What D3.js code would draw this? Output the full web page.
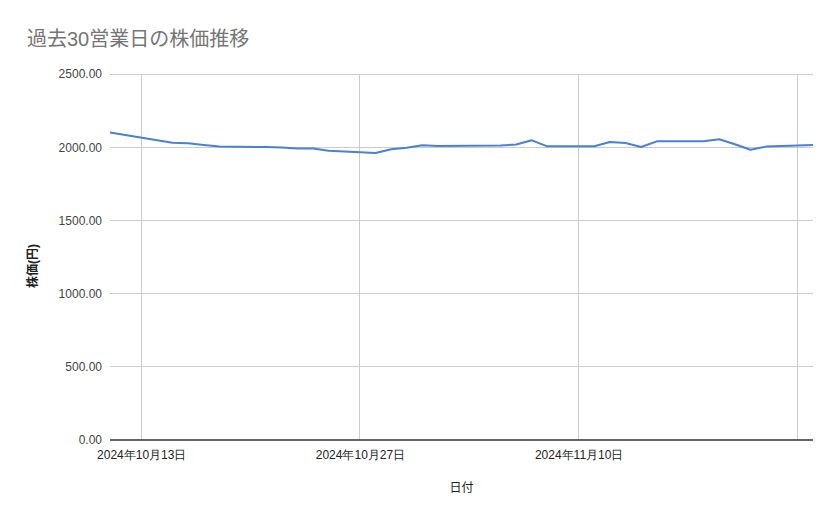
<!DOCTYPE html>
<html>
<head>
<meta charset="utf-8">
<script src="https://cdn.jsdelivr.net/npm/d3@7"></script>
<style>
  html, body { margin: 0; padding: 0; background: #fff; }
  svg { display: block; font-family: "Liberation Sans", Arial, "Noto Sans CJK JP", sans-serif; }
</style>
</head>
<body>
<svg id="chart" width="839" height="519"></svg>
<script>
const chartTitle = "過去30営業日の株価推移";
const xTitle = "日付";
const yTitle = "株価(円)";
const dates = ["2024-10-11","2024-10-15","2024-10-16","2024-10-17","2024-10-18",
  "2024-10-21","2024-10-22","2024-10-23","2024-10-24","2024-10-25",
  "2024-10-28","2024-10-29","2024-10-30","2024-10-31","2024-11-01",
  "2024-11-05","2024-11-06","2024-11-07","2024-11-08","2024-11-11",
  "2024-11-12","2024-11-13","2024-11-14","2024-11-15","2024-11-18",
  "2024-11-19","2024-11-20","2024-11-21","2024-11-22","2024-11-25"];
const prices = [2100,2030,2027,2015,2004,
  2001,1998,1991,1991,1976,
  1960,1986,1997,2013,2008,
  2012,2018,2047,2006,2007,
  2035,2029,2001,2040,2040,
  2054,2020,1983,2004,2015];
const xTickDates = ["2024-10-13","2024-10-27","2024-11-10","2024-11-24"];
const xTickLabels = ["2024年10月13日","2024年10月27日","2024年11月10日",""];
const yTicks = [0,500,1000,1500,2000,2500];

const parse = d3.utcParse("%Y-%m-%d");
const data = dates.map((d,i) => ({date: parse(d), value: prices[i]}));
const tickDates = xTickDates.map(parse);

const mLeft = 110, mRight = 813, mTop = 74, mBottom = 440;
const svg = d3.select("#chart");

const x = d3.scaleUtc().domain(d3.extent(data, d => d.date)).range([mLeft, mRight]);
const y = d3.scaleLinear().domain([0, 2500]).range([mBottom, mTop]);

svg.append("text").attr("x", 27).attr("y", 46)
  .attr("font-size", 20).attr("fill", "#757575").text(chartTitle);

// horizontal gridlines + y labels
const yAxis = d3.axisLeft(y).tickValues(yTicks).tickFormat(d3.format(".2f")).tickSize(0).tickPadding(8);
const gy = svg.append("g").attr("transform", `translate(${mLeft},0)`).call(yAxis);
gy.select(".domain").remove();
gy.selectAll("text").attr("font-size", 12).attr("fill", "#444").attr("font-family", null);
svg.append("g").selectAll("line").data(yTicks.filter(t => t > 0)).join("line")
  .attr("x1", mLeft).attr("x2", mRight).attr("y1", d => y(d)).attr("y2", d => y(d))
  .attr("stroke", "#cccccc").attr("stroke-width", 1).attr("shape-rendering", "crispEdges");

// vertical gridlines + x labels
const xAxis = d3.axisBottom(x).tickValues(tickDates).tickFormat((d,i) => xTickLabels[i]).tickSize(0).tickPadding(10);
const gx = svg.append("g").attr("transform", `translate(0,${mBottom})`).call(xAxis);
gx.select(".domain").remove();
gx.selectAll("text").attr("font-size", 12).attr("fill", "#222").attr("font-family", null);
svg.append("g").selectAll("line").data(tickDates).join("line")
  .attr("x1", d => x(d)).attr("x2", d => x(d)).attr("y1", mTop).attr("y2", mBottom)
  .attr("stroke", "#cccccc").attr("stroke-width", 1).attr("shape-rendering", "crispEdges");

// baseline
svg.append("line").attr("x1", mLeft).attr("x2", mRight).attr("y1", y(0)).attr("y2", y(0))
  .attr("stroke", "#333").attr("stroke-width", 1.3);

// series
svg.append("path").datum(data)
  .attr("fill", "none").attr("stroke", "#4a7fdb").attr("stroke-width", 2)
  .attr("stroke-linejoin", "round")
  .attr("d", d3.line().x(d => x(d.date)).y(d => y(d.value)));

// axis titles
svg.append("text").attr("x", (mLeft + mRight) / 2).attr("y", 492)
  .attr("text-anchor", "middle").attr("font-size", 12).attr("fill", "#222").text(xTitle);
svg.append("text").attr("transform", `translate(37,266) rotate(-90)`)
  .attr("text-anchor", "middle").attr("font-size", 12).attr("font-weight", "bold").attr("fill", "#222").text(yTitle);
</script>
</body>
</html>
